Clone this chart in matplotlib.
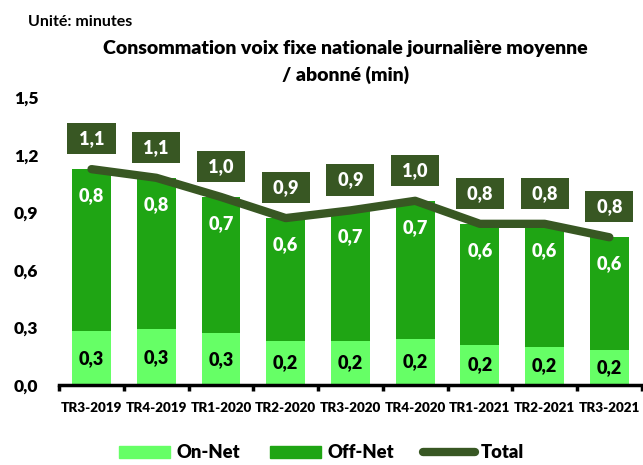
import numpy as np
import matplotlib.pyplot as plt
from matplotlib.patches import Patch
from matplotlib.lines import Line2D

# data
quarters = ['TR3-2019', 'TR4-2019', 'TR1-2020', 'TR2-2020', 'TR3-2020',
            'TR4-2020', 'TR1-2021', 'TR2-2021', 'TR3-2021']
on_net = [0.28, 0.29, 0.27, 0.23, 0.23, 0.24, 0.21, 0.20, 0.18]
off_net = [0.845, 0.79, 0.71, 0.64, 0.68, 0.72, 0.63, 0.64, 0.59]
total = [a + b for a, b in zip(on_net, off_net)]

c_on = '#66FF66'
c_off = '#1FA514'
c_tot = '#385723'

plt.rcParams['font.family'] = ['Lato', 'DejaVu Sans']
W = 'heavy'


def fmt(v):
    return f'{v:.1f}'.replace('.', ',')


fig = plt.figure(figsize=(6.43, 4.65), dpi=100)
ax = fig.add_axes([0.092, 0.172, 0.906, 0.619])
x = np.arange(len(quarters))

ax.bar(x, on_net, width=0.6, color=c_on, zorder=2)
ax.bar(x, off_net, width=0.6, bottom=on_net, color=c_off, zorder=2)
ax.plot(x, total, color=c_tot, linewidth=6, solid_capstyle='round', zorder=3)

for i in range(len(x)):
    ax.text(x[i], on_net[i] / 2, fmt(on_net[i]), ha='center', va='center',
            fontsize=13, fontweight=W, color='black', zorder=4)
    ax.annotate(fmt(off_net[i]), (x[i], total[i]), xytext=(0, -19),
                textcoords='offset points', ha='center', va='center',
                fontsize=13, fontweight=W, color='white', zorder=4)
    ax.annotate(' ' + fmt(total[i]) + ' ', (x[i], total[i]), xytext=(0, 22),
                textcoords='offset points', ha='center', va='center',
                fontsize=13, fontweight=W, color='white', zorder=5,
                bbox=dict(boxstyle='square,pad=0.4', fc=c_tot, ec='none'))

ax.set_xlim(-0.5, len(x) - 0.5)
ax.set_ylim(0, 1.5)
ax.set_yticks(np.arange(0, 1.51, 0.3))
ax.set_yticklabels([fmt(v) for v in np.arange(0, 1.51, 0.3)], fontsize=12.5, fontweight=W)
ax.set_xticks(x)
ax.set_xticklabels(quarters, fontsize=9.7, fontweight=W)
ax.set_xticks(np.arange(-0.5, len(x)), minor=True)
ax.tick_params(axis='x', which='major', length=0, pad=12)
ax.tick_params(axis='x', which='minor', length=4, width=2.5, direction='out')
ax.tick_params(axis='y', length=0, pad=15)
for s in ['top', 'right', 'left']:
    ax.spines[s].set_visible(False)
ax.spines['bottom'].set_linewidth(2.5)

fig.text(0.044, 0.953, 'Unité: minutes', fontsize=11.5, fontweight='bold', va='center')
fig.text(0.537, 0.895, 'Consommation voix fixe nationale journalière moyenne',
         fontsize=14, fontweight=W, ha='center', va='center')
fig.text(0.537, 0.84, '/ abonné (min)', fontsize=14, fontweight=W,
         ha='center', va='center')

handles = [Patch(color=c_on, label='On-Net'), Patch(color=c_off, label='Off-Net'),
           Line2D([0], [0], color=c_tot, linewidth=6, solid_capstyle='round', label='Total')]
fig.legend(handles=handles, loc='center', bbox_to_anchor=(0.5, 0.026), ncol=3,
           frameon=False, prop={'size': 13.2, 'weight': W}, handlelength=2.8,
           handleheight=0.7, columnspacing=1.6, handletextpad=0.35)

fig.savefig('out.png', dpi=100)
